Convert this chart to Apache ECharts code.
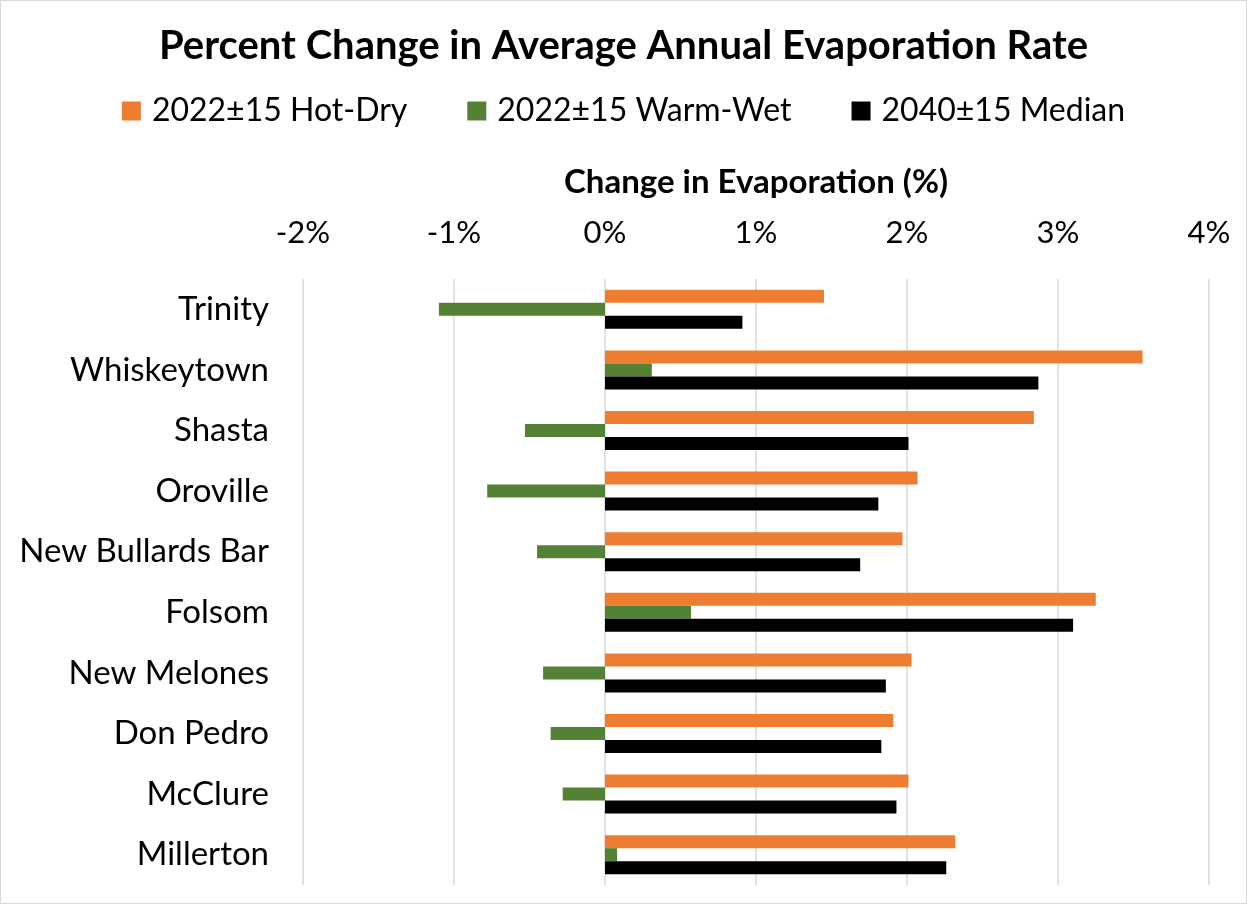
<!DOCTYPE html>
<html>
<head>
<meta charset="utf-8">
<script src="https://cdn.jsdelivr.net/npm/echarts@6/dist/echarts.min.js"></script>
<style>
  html, body { margin: 0; padding: 0; background: #fff; }
  #chart { width: 1245px; height: 902px; border: 1px solid #d9d9d9; }
</style>
</head>
<body>
<div id="chart"></div>
<script>
// reservoirs, top to bottom
const reservoirs = ['Trinity', 'Whiskeytown', 'Shasta', 'Oroville', 'New Bullards Bar',
  'Folsom', 'New Melones', 'Don Pedro', 'McClure', 'Millerton']

// change in evaporation, percent
const hotDry = [1.45, 3.56, 2.84, 2.07, 1.97, 3.25, 2.03, 1.91, 2.01, 2.32]
const warmWet = [-1.10, 0.31, -0.53, -0.78, -0.45, 0.57, -0.41, -0.36, -0.28, 0.08]
const median = [0.91, 2.87, 2.01, 1.81, 1.69, 3.10, 1.86, 1.83, 1.93, 2.26]

const seriesNames = ['2022±15 Hot-Dry', '2022±15 Warm-Wet', '2040±15 Median']
const xTicks = { min: -2, max: 4, step: 1 }

const font = 'Lato, "Open Sans", sans-serif'
const chart = echarts.init(document.getElementById('chart'))

const barStyle = (color) => ({ color })

chart.setOption({
  animation: false,
  textStyle: { fontFamily: font },
  title: {
    text: 'Percent Change in Average Annual Evaporation Rate',
    left: 'center',
    top: 20,
    textStyle: { fontFamily: font, fontSize: 40, fontWeight: 'bold', color: '#000' }
  },
  legend: {
    data: seriesNames,
    top: 89,
    left: 'center',
    itemWidth: 19,
    itemHeight: 19,
    itemGap: 60,
    icon: 'rect',
    textStyle: { fontFamily: font, fontSize: 32, color: '#000', padding: [0, 0, 0, 6] }
  },
  grid: { left: 302, right: 37, top: 278, bottom: 18 },
  xAxis: {
    type: 'value',
    position: 'top',
    min: xTicks.min,
    max: xTicks.max,
    interval: xTicks.step,
    name: 'Change in Evaporation (%)',
    nameLocation: 'middle',
    nameGap: 80,
    nameTextStyle: { fontFamily: font, fontSize: 33, fontWeight: 'bold', color: '#000' },
    axisLine: { show: false },
    axisTick: { show: false },
    axisLabel: {
      fontFamily: font, fontSize: 31, color: '#000', margin: 31,
      formatter: '{value}%'
    },
    splitLine: { lineStyle: { color: '#d9d9d9', width: 1.5 } }
  },
  yAxis: {
    type: 'category',
    data: reservoirs,
    inverse: true,
    axisLine: { show: false },
    axisTick: { show: false },
    axisLabel: { fontFamily: font, fontSize: 33, color: '#000', margin: 34 }
  },
  series: [
    { name: seriesNames[0], type: 'bar', data: hotDry, barWidth: 13, barGap: '0%',
      itemStyle: barStyle('#ED7D31') },
    { name: seriesNames[1], type: 'bar', data: warmWet, barWidth: 13, barGap: '0%',
      itemStyle: barStyle('#548235') },
    { name: seriesNames[2], type: 'bar', data: median, barWidth: 13, barGap: '0%',
      itemStyle: barStyle('#000000') }
  ]
})
</script>
</body>
</html>
